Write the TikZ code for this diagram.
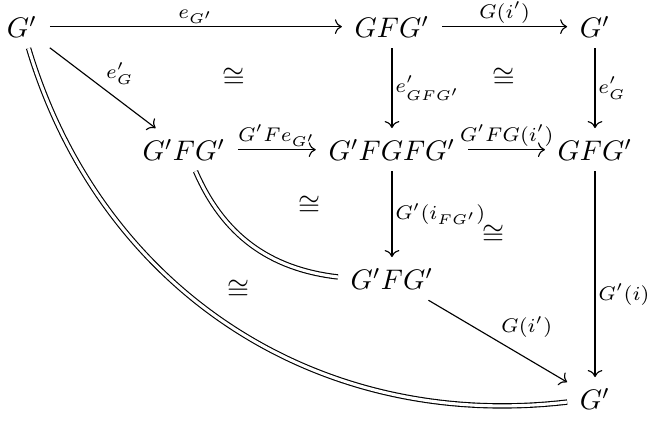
\documentclass[tikz,border=0pt]{standalone}
\usepackage{tikz}
\usetikzlibrary{arrows.meta, positioning}
\tikzset{
  objeto/.style={inner xsep=1ex, inner ysep=0.85ex},
  flecha/.style={-{Computer Modern Rightarrow}, thin},
  flechaIgual/.style={thin, double, double distance=1.1pt},
  etiqueta/.style={font=\scriptsize, inner sep=1pt},
  iso/.style={inner sep=0pt},
}

\begin{document}
\begin{tikzpicture}[on grid, node distance=1.528cm]
    \useasboundingbox (-0.273,0.331) rectangle (7.775,-4.911);

    % objetos
    \node[objeto] (gp) {$G'$};
    \node[objeto, right=4.595cm of gp] (gfg) {$GFG'$};
    \node[objeto, right=2.522cm of gfg] (gpDer) {$G'$};
    \node[objeto, below right=1.528cm and 2.012cm of gp] (gpfg) {$G'FG'$};
    \node[objeto, below=of gfg] (gpfgfg) {$G'FGFG'$};
    \node[objeto, below=of gpDer] (gfgDer) {$GFG'$};
    \node[objeto, below=1.602cm of gpfgfg] (gpfgAbajo) {$G'FG'$};
    \node[objeto, below=3.092cm of gfgDer] (gpFin) {$G'$};

    % flechas
    \draw[flecha] (gp) -- (gfg) node[midway, above, etiqueta]{$e_{G'}$};
    \draw[flecha] (gfg) -- (gpDer) node[midway, above, etiqueta]{$G(i')$};
    \draw[flecha] (gp) -- (gpfg) node[midway, above right, etiqueta]{$e'_G$};
    \draw[flecha] (gfg) -- (gpfgfg) node[midway, right, etiqueta]{$e'_{GFG'}$};
    \draw[flecha] (gpDer) -- (gfgDer) node[midway, right, etiqueta]{$e'_G$};
    \draw[flecha] (gpfg) -- (gpfgfg) node[midway, above, etiqueta]{$G'Fe_{G'}$};
    \draw[flecha] (gpfgfg) -- (gfgDer) node[midway, above, etiqueta]{$G'FG(i')$};
    \draw[flecha] (gpfgfg) -- (gpfgAbajo) node[midway, right, etiqueta]{$G'(i_{FG'})$};
    \draw[flecha] (gfgDer) -- (gpFin) node[pos=0.6, right, etiqueta]{$G'(i)$};
    \draw[flecha] (gpfgAbajo) -- (gpFin) node[midway, above right, etiqueta]{$G(i')$};

    % igualdades
    \draw[flechaIgual] (gpfg) to[bend right=30] (gpfgAbajo);
    \draw[flechaIgual] (gp) to[bend right=40] (gpFin);

    % isomorfismos
    \node[iso] (iso1) at (2.633,-0.633) {$\cong$};
    \node[iso] (iso2) at (5.986,-0.633) {$\cong$};
    \node[iso] (iso3) at (3.565,-2.223) {$\cong$};
    \node[iso] (iso4) at (5.850,-2.583) {$\cong$};
    \node[iso] (iso5) at (2.683,-3.266) {$\cong$};
  \end{tikzpicture}
\end{document}
